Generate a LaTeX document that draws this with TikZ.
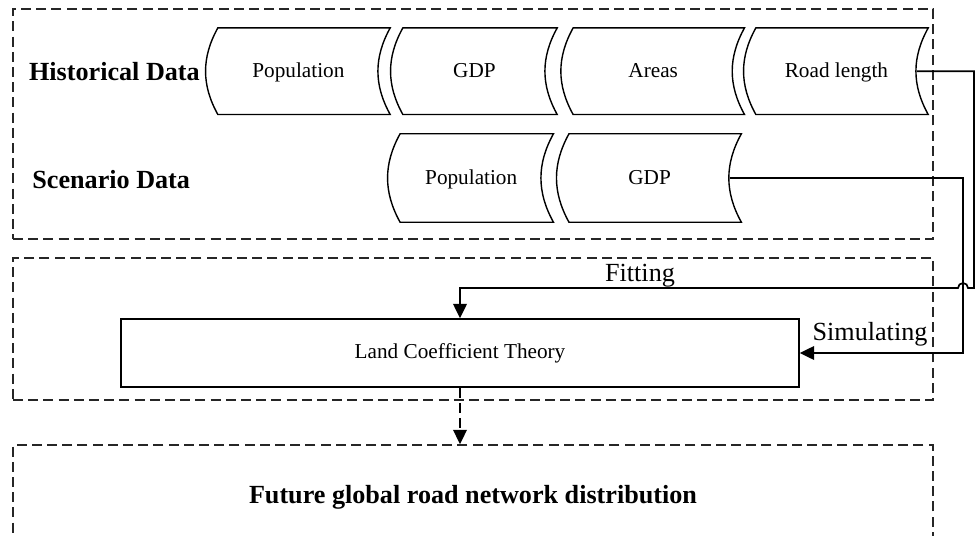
\documentclass[tikz,border=0pt]{standalone}
\usepackage{fontspec}
\setmainfont{Liberation Serif}
\usetikzlibrary{arrows.meta}

\newcommand{\bulge}{0.28cm}

\begin{document}
\begin{tikzpicture}[>={Triangle[length=0.36cm,width=0.34cm]},font=\fontsize{15.1}{18}\selectfont,
  group/.style={draw=black!85,line width=1.1pt,dash pattern=on 0.25cm off 0.13cm},
  stored/.style={minimum height=2.15cm,inner sep=0pt,text height=2.2ex,text depth=0.2ex},
  heading/.style={font=\fontsize{18.6}{22}\selectfont\bfseries},
  label/.style={font=\fontsize{18.6}{22}\selectfont},
  flow/.style={line width=1.2pt}]
\useasboundingbox (0,0) rectangle (24.4,-13.4);

% dashed group frames
\node[group,minimum width=23cm,minimum height=5.75cm] (dataBox) at (11.825,-3.1) {};
\node[group,minimum width=23cm,minimum height=3.55cm] (modelBox) at (11.825,-8.225) {};
\node[group,minimum width=23cm,minimum height=2.6cm,heading] (future) at (11.825,-12.425) {Future global road network distribution};

% row labels
\node[heading] (hist) at (2.86,-1.8) {Historical Data};
\node[heading] (scen) at (2.78,-4.5) {Scenario Data};

% stored data blocks
\node[stored,minimum width=4.575cm] (hPop) at (7.46,-1.78) {Population};
\node[stored,minimum width=4.125cm] (hGDP) at (11.86,-1.78) {GDP};
\node[stored,minimum width=4.55cm] (hArea) at (16.33,-1.78) {Areas};
\node[stored,minimum width=4.575cm] (hRoad) at (20.91,-1.78) {Road length};
\node[stored,minimum width=4.1cm,minimum height=2.2cm] (sPop) at (11.78,-4.45) {Population};
\node[stored,minimum width=4.575cm,minimum height=2.2cm] (sGDP) at (16.24,-4.45) {GDP};
\foreach \n in {hPop,hGDP,hArea,hRoad,sPop,sGDP}
  \draw[line width=1pt] ([xshift=\bulge]\n.north west) -- (\n.north east) to[bend right=29] (\n.south east)
    -- ([xshift=\bulge]\n.south west) to[bend left=29] ([xshift=\bulge]\n.north west) -- cycle;

% model
\node[draw,line width=1pt,minimum width=16.95cm,minimum height=1.7cm] (lct) at (11.5,-8.825) {Land Coefficient Theory};

% connectors
\coordinate (fitC) at (24.35,-7.2);
\coordinate (simC) at (24.075,-8.825);
\draw[flow,->] ([xshift=-\bulge]hRoad.east) -| (fitC) -- (24.2,-7.2) arc[start angle=0,end angle=180,radius=0.125cm] -| (lct.north);
\draw[flow,->] ([xshift=-\bulge]sGDP.east) -| (simC) -- (lct.east);
\draw[flow,->,dash pattern=on 0.25cm off 0.13cm] (lct.south) -- (lct.south |- future.north);

\node[label] (fitLbl) at (16.0,-6.88) {Fitting};
\node[label] (simLbl) at (21.75,-8.35) {Simulating};
\end{tikzpicture}
\end{document}
